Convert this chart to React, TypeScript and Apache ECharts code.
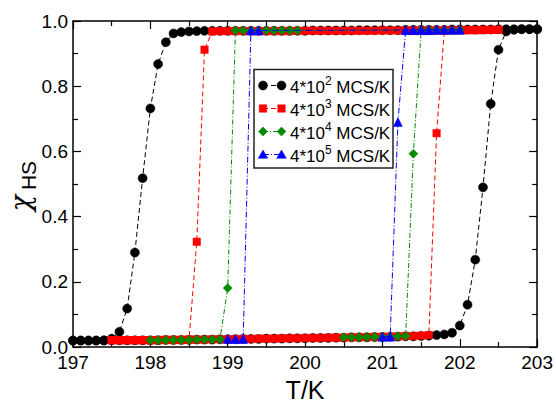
import React, { useEffect, useRef } from 'react';
import * as echarts from 'echarts';

const FONT = '"Liberation Sans", Arial, Helvetica, sans-serif';

// ---------- data (T in K, x_HS) ----------
const blackHeatT = [197.0,197.1,197.2,197.3,197.4,197.5,197.6,197.7,197.8,197.9,198.0,198.1,198.2,198.3,198.4,198.5,198.6,198.7,198.8,198.9,199.0,199.1,199.2,199.3,199.4,199.5,199.6,199.7,199.8,199.9,200.0,200.1,200.2,200.3,200.4,200.5,200.6,200.7,200.8,200.9,201.0,201.1,201.2,201.3,201.4,201.5,201.6,201.7,201.8,201.9,202.0,202.1,202.2,202.3,202.4,202.5,202.6,202.7,202.8,202.9,203.0];
const blackHeatX = [0.020,0.020,0.020,0.020,0.020,0.021,0.021,0.021,0.021,0.021,0.021,0.021,0.022,0.022,0.022,0.022,0.023,0.023,0.023,0.024,0.024,0.024,0.025,0.025,0.025,0.026,0.026,0.026,0.027,0.027,0.027,0.028,0.028,0.028,0.029,0.029,0.030,0.030,0.030,0.031,0.031,0.032,0.032,0.033,0.033,0.034,0.035,0.037,0.039,0.044,0.066,0.130,0.268,0.490,0.746,0.912,0.968,0.973,0.975,0.975,0.975];
const blackCoolT = [203.0,202.9,202.8,202.7,202.6,202.5,202.4,202.3,202.2,202.1,202.0,201.9,201.8,201.7,201.6,201.5,201.4,201.3,201.2,201.1,201.0,200.9,200.8,200.7,200.6,200.5,200.4,200.3,200.2,200.1,200.0,199.9,199.8,199.7,199.6,199.5,199.4,199.3,199.2,199.1,199.0,198.9,198.8,198.7,198.6,198.5,198.4,198.3,198.2,198.1,198.0,197.9,197.8,197.7,197.6,197.5,197.4,197.3,197.2,197.1,197.0];
const blackCoolX = [0.975,0.975,0.975,0.975,0.975,0.975,0.974,0.974,0.974,0.974,0.974,0.974,0.973,0.973,0.973,0.973,0.973,0.973,0.972,0.972,0.972,0.972,0.972,0.972,0.971,0.971,0.971,0.971,0.971,0.971,0.970,0.970,0.970,0.970,0.970,0.970,0.970,0.970,0.970,0.970,0.970,0.970,0.970,0.970,0.969,0.968,0.966,0.962,0.935,0.868,0.732,0.518,0.290,0.118,0.047,0.026,0.021,0.020,0.020,0.020,0.020];

const redHeatT = [197.5,197.6,197.7,197.8,197.9,198.0,198.1,198.2,198.3,198.4,198.5,198.6,198.7,198.8,198.9,199.0,199.1,199.2,199.3,199.4,199.5,199.6,199.7,199.8,199.9,200.0,200.1,200.2,200.3,200.4,200.5,200.6,200.7,200.8,200.9,201.0,201.1,201.2,201.3,201.4,201.5,201.6,201.7,201.8,201.9,202.0,202.1,202.2,202.3,202.4,202.5];
const redHeatX = [0.021,0.021,0.021,0.021,0.021,0.021,0.022,0.022,0.022,0.022,0.023,0.023,0.023,0.024,0.024,0.024,0.025,0.025,0.025,0.026,0.026,0.026,0.027,0.027,0.027,0.028,0.028,0.028,0.029,0.029,0.029,0.030,0.030,0.031,0.031,0.032,0.032,0.033,0.034,0.034,0.035,0.037,0.656,0.970,0.971,0.972,0.972,0.972,0.973,0.973,0.973];
const redCoolT = [202.5,202.4,202.3,202.2,202.1,202.0,201.9,201.8,201.7,201.6,201.5,201.4,201.3,201.2,201.1,201.0,200.9,200.8,200.7,200.6,200.5,200.4,200.3,200.2,200.1,200.0,199.9,199.8,199.7,199.6,199.5,199.4,199.3,199.2,199.1,199.0,198.9,198.8,198.7,198.6,198.5,198.4,198.3,198.2,198.1,198.0,197.9,197.8,197.7,197.6,197.5];
const redCoolX = [0.973,0.973,0.972,0.972,0.972,0.972,0.972,0.972,0.971,0.971,0.971,0.971,0.971,0.971,0.971,0.971,0.970,0.970,0.970,0.970,0.970,0.970,0.970,0.970,0.970,0.970,0.970,0.969,0.969,0.969,0.969,0.969,0.969,0.969,0.969,0.969,0.969,0.968,0.912,0.323,0.023,0.022,0.022,0.022,0.021,0.021,0.021,0.021,0.021,0.021,0.021];

const greenHeatT = [200.5,200.6,200.7,200.8,200.9,201.0,201.1,201.2,201.3,201.4,201.5,201.6,201.7,201.8,201.9,202.0];
const greenHeatX = [0.030,0.030,0.030,0.031,0.031,0.032,0.032,0.033,0.034,0.593,0.971,0.972,0.972,0.972,0.972,0.973];
const greenCoolT = [199.9,199.8,199.7,199.6,199.5,199.4,199.3,199.2,199.1,199.0,198.9,198.8,198.7,198.6,198.5,198.4,198.3,198.2,198.1,198.0];
const greenCoolX = [0.971,0.971,0.971,0.971,0.971,0.971,0.971,0.971,0.971,0.181,0.024,0.023,0.023,0.023,0.022,0.022,0.022,0.021,0.021,0.021];

const blueHeatT = [201.0,201.1,201.2,201.3,201.4,201.5,201.6,201.7,201.8,201.9,202.0];
const blueHeatX = [0.032,0.032,0.690,0.972,0.972,0.972,0.972,0.973,0.973,0.973,0.973];
const blueCoolT = [199.4,199.3,199.2,199.1,199.0];
const blueCoolX = [0.971,0.971,0.025,0.025,0.025];

const rateBase = '4*10';
const rateExponents = ['2', '3', '4', '5'];
const rateUnit = 'MCS/K';

const xTickMin = 197;
const xTickMax = 203;
const yTickMin = 0;
const yTickMax = 1;

// ---------- styles ----------
const colors = ['#000000', '#ff0000', '#008b00', '#0000ff'];
const symbolTypes = ['circle', 'rect', 'diamond', 'triangle'];
const symbolSizes = [9, 7.5, 9, 9];
const dashTypes: any[] = [[5, 3], [5, 3], [5, 2, 1, 2], [6, 2, 1, 2]];

function pairs(t: number[], v: number[]) {
  return t.map((tt, i) => [tt, v[i]]);
}

const seriesData = [
  [...pairs(blackHeatT, blackHeatX), ...pairs(blackCoolT, blackCoolX)],
  [...pairs(redHeatT, redHeatX), ...pairs(redCoolT, redCoolX)],
  [...pairs(greenHeatT, greenHeatX), ...pairs(greenCoolT, greenCoolX)],
  [...pairs(blueHeatT, blueHeatX), ...pairs(blueCoolT, blueCoolX)],
];

function legendGraphics() {
  const els: any[] = [];
  const boxX = 254, boxY = 69.5, boxW = 139, boxH = 98.5;
  els.push({
    type: 'rect',
    shape: { x: boxX, y: boxY, width: boxW, height: boxH },
    style: { fill: '#fff', stroke: '#222', lineWidth: 1.5 },
    z: 100,
  });
  rateExponents.forEach((exp, i) => {
    const cy = 85.5 + i * 23;
    const x1 = 263, x2 = 281.5;
    const c = colors[i];
    els.push({
      type: 'line',
      shape: { x1, y1: cy, x2, y2: cy },
      style: { stroke: c, lineWidth: 1, lineDash: dashTypes[i] },
      z: 101,
    });
    [x1, x2].forEach((cx) => {
      let el: any;
      if (i === 0) el = { type: 'circle', shape: { cx, cy, r: 4.5 } };
      else if (i === 1) el = { type: 'rect', shape: { x: cx - 3.75, y: cy - 3.75, width: 7.5, height: 7.5 } };
      else if (i === 2) el = { type: 'polygon', shape: { points: [[cx, cy - 4.5], [cx + 4.5, cy], [cx, cy + 4.5], [cx - 4.5, cy]] } };
      else el = { type: 'polygon', shape: { points: [[cx, cy - 4.5], [cx + 4.8, cy + 3.8], [cx - 4.8, cy + 3.8]] } };
      el.style = { fill: c, stroke: c, lineWidth: 0.5 };
      el.z = 102;
      els.push(el);
    });
    els.push({
      type: 'text',
      x: 290,
      y: cy + 1.5,
      z: 102,
      style: {
        text: `{a|${rateBase}}{b|${exp}}{a| ${rateUnit}}`,
        verticalAlign: 'middle',
        align: 'left',
        rich: {
          a: { fontSize: 17, fontFamily: FONT, fill: '#000', lineHeight: 24 },
          b: { fontSize: 12, fontFamily: FONT, fill: '#000', lineHeight: 12, verticalAlign: 'top' },
        },
      },
    });
  });
  // y-axis title: chi with subscript HS, rotated
  els.push({
    type: 'text',
    x: 20,
    y: 203,
    rotation: Math.PI / 2,
    style: {
      text: 'χ',
      fontSize: 27,
      fontStyle: 'italic',
      fontFamily: '"DejaVu Serif", "Liberation Serif", serif',
      fill: '#000',
      align: 'center',
      verticalAlign: 'middle',
    },
  });
  els.push({
    type: 'text',
    x: 28.5,
    y: 175.5,
    rotation: Math.PI / 2,
    style: {
      text: 'HS',
      fontSize: 21,
      fontFamily: FONT,
      fill: '#000',
      align: 'center',
      verticalAlign: 'middle',
    },
  });
  return els;
}

const axisCommon = {
  axisLine: { show: true, onZero: false, lineStyle: { color: '#000', width: 1.5 } },
  axisTick: { show: true, inside: true, length: 8, lineStyle: { color: '#000', width: 1.2 } },
  minorTick: { show: true, splitNumber: 2, length: 5, lineStyle: { color: '#000', width: 1.2 } },
  splitLine: { show: false },
  minorSplitLine: { show: false },
};

export default function App() {
  const ref = useRef<HTMLDivElement>(null);
  useEffect(() => {
    document.body.style.margin = '0';
    if (!ref.current) return;
    const chart = echarts.init(ref.current, undefined, { renderer: 'svg' });
    chart.setOption({
      animation: false,
      backgroundColor: '#fff',
      grid: { left: 73, right: 17, top: 21, bottom: 44, containLabel: false },
      xAxis: [
        {
          type: 'value', min: xTickMin, max: xTickMax, interval: 1, position: 'bottom',
          ...axisCommon,
          axisLabel: { fontSize: 19, color: '#000', margin: 6, fontFamily: FONT },
          name: 'T/K', nameLocation: 'middle', nameGap: 23,
          nameTextStyle: { fontSize: 25, color: '#000', fontFamily: FONT, verticalAlign: 'top' },
        },
        {
          type: 'value', min: xTickMin, max: xTickMax, interval: 1, position: 'top',
          ...axisCommon, axisLabel: { show: false },
        },
      ],
      yAxis: [
        {
          type: 'value', min: yTickMin, max: yTickMax, interval: 0.2, position: 'left',
          ...axisCommon,
          axisLabel: { fontSize: 19, color: '#000', margin: 5, fontFamily: FONT, formatter: (v: number) => v.toFixed(1) },
        },
        {
          type: 'value', min: yTickMin, max: yTickMax, interval: 0.2, position: 'right',
          ...axisCommon, axisLabel: { show: false },
        },
      ],
      series: seriesData.map((d, i) => ({
        type: 'line',
        name: `${rateBase}^${rateExponents[i]} ${rateUnit}`,
        data: d,
        xAxisIndex: 0,
        yAxisIndex: 0,
        clip: false,
        symbol: symbolTypes[i],
        symbolSize: symbolSizes[i],
        showAllSymbol: true,
        itemStyle: { color: colors[i], borderColor: colors[i], borderWidth: 0.5 },
        lineStyle: { color: colors[i], width: 1, type: dashTypes[i] },
        emphasis: { disabled: true },
        z: 2 + i,
      })),
      graphic: legendGraphics(),
    });
    return () => chart.dispose();
  }, []);
  return <div ref={ref} style={{ width: 556, height: 407, position: 'absolute', left: 0, top: 0 }} />;
}
